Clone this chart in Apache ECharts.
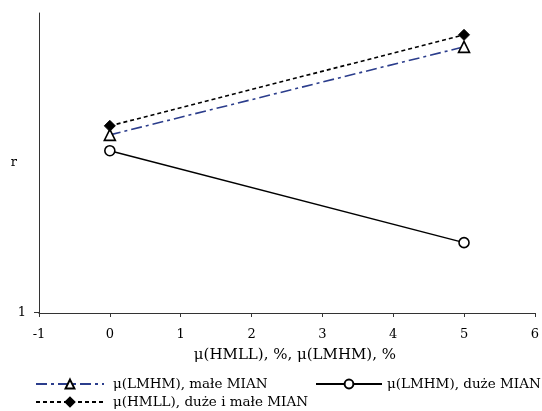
<!DOCTYPE html>
<html>
<head>
<meta charset="utf-8">
<script src="https://cdn.jsdelivr.net/npm/echarts@6/dist/echarts.min.js"></script>
<style>
  html, body { margin: 0; padding: 0; background: #fff; }
  #chart { width: 542px; height: 411px; }
</style>
</head>
<body>
<div id="chart"></div>
<script>
// x positions of the two measured points
const xValues = [0, 5]
// r values (y axis runs from 1 upward)
const lmhmSmall = [1.593, 1.887]
const lmhmLarge = [1.540, 1.233]
const hmllBoth = [1.623, 1.927]
const yTickValues = [1]
const seriesNames = ['μ(LMHM), małe MIAN', 'μ(LMHM), duże MIAN', 'μ(HMLL), duże i małe MIAN']

const font = 'DejaVu Serif'
const pairs = (ys) => xValues.map((x, i) => [x, ys[i]])

const legendItem = (name, left, top, width, pad) => ({
    data: [name],
    left: left,
    top: top,
    itemWidth: width,
    itemHeight: 11,
    textStyle: { fontFamily: font, fontSize: 13.5, color: '#000', padding: [0, 0, 0, pad] },
})

const option = {
    animation: false,
    grid: { left: 39, right: 5, top: 13, bottom: 98 },
    xAxis: {
        type: 'value',
        min: -1,
        max: 6,
        interval: 1,
        name: 'μ(HMLL), %, μ(LMHM), %',
        nameLocation: 'middle',
        nameGap: 35,
        nameTextStyle: { fontFamily: font, fontSize: 15, color: '#000', padding: [0, 0, 0, 16] },
        axisLine: { onZero: false, lineStyle: { color: '#333', width: 1 } },
        axisTick: { show: true, length: 4, lineStyle: { color: '#333' } },
        axisLabel: { fontFamily: font, fontSize: 13, color: '#000', margin: 15 },
        splitLine: { show: false },
    },
    yAxis: {
        type: 'value',
        // a hair below 1 so the tick at 1 is not swallowed by the x axis line
        min: 0.998,
        max: 2,
        name: 'r',
        nameLocation: 'middle',
        nameRotate: 0,
        nameGap: 22,
        nameMoveOverlap: false,
        nameTextStyle: { fontFamily: font, fontSize: 13, color: '#000' },
        axisLine: { show: true, onZero: false, lineStyle: { color: '#333', width: 1 } },
        axisTick: { show: true, length: 5, customValues: yTickValues, lineStyle: { color: '#333', width: 1 } },
        axisLabel: { fontFamily: font, fontSize: 13, color: '#000', margin: 13, customValues: yTickValues },
        splitLine: { show: false },
    },
    legend: [
        legendItem(seriesNames[0], 30, 372, 68, 4),
        legendItem(seriesNames[1], 310, 372, 66, 0),
        legendItem(seriesNames[2], 30, 390, 68, 4),
    ],
    series: [
        {
            name: seriesNames[0],
            type: 'line',
            data: pairs(lmhmSmall),
            symbol: 'triangle',
            symbolSize: 11,
            z: 3,
            lineStyle: { color: '#2b3d8c', width: 1.6, type: [11, 4, 3, 4] },
            itemStyle: { color: '#fff', borderColor: '#000', borderWidth: 1.6 },
        },
        {
            name: seriesNames[1],
            type: 'line',
            data: pairs(lmhmLarge),
            symbol: 'circle',
            symbolSize: 10,
            z: 3,
            lineStyle: { color: '#000', width: 1.5, type: 'solid' },
            itemStyle: { color: '#fff', borderColor: '#000', borderWidth: 1.6 },
        },
        {
            name: seriesNames[2],
            type: 'line',
            data: pairs(hmllBoth),
            symbol: 'diamond',
            symbolSize: 11,
            z: 4,
            lineStyle: { color: '#000', width: 1.6, type: [4, 3] },
            itemStyle: { color: '#000', borderColor: '#000', borderWidth: 1 },
        },
    ],
}

const chart = echarts.init(document.getElementById('chart'))
chart.setOption(option)
</script>
</body>
</html>
